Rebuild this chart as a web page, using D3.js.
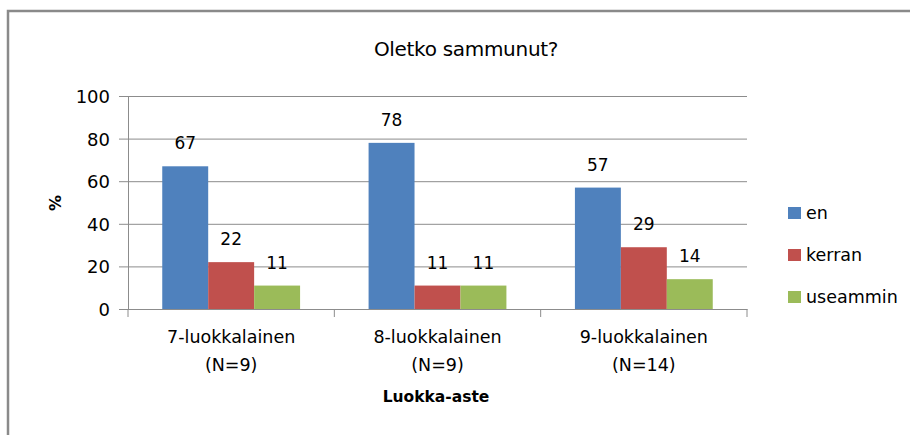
<!DOCTYPE html>
<html>
<head>
<meta charset="utf-8">
<script src="https://cdnjs.cloudflare.com/ajax/libs/d3/7.8.5/d3.min.js"></script>
<style>
  html, body { margin: 0; padding: 0; background: #fff; }
  svg text { font-family: "DejaVu Sans", sans-serif; fill: #000; }
</style>
</head>
<body>
<div class="chart-container"></div>
<script>
/* Oletko sammunut? - grouped bar chart */

var categories = ["7-luokkalainen|(N=9)", "8-luokkalainen|(N=9)", "9-luokkalainen|(N=14)"];
var seriesNames = ["en", "kerran", "useammin"];
var seriesColors = ["#4f81bd", "#c0504d", "#9bbb59"];
var valuesEn = [67, 78, 57];
var valuesKerran = [22, 11, 29];
var valuesUseammin = [11, 11, 14];
var yTicks = [0, 20, 40, 60, 80, 100];

var seriesValues = [valuesEn, valuesKerran, valuesUseammin];

var w = 910;
var h = 435;
var plot = { left: 128, right: 747, top: 96, bottom: 309 };

var svg = d3.select(".chart-container")
    .append("svg")
    .attr("width", w)
    .attr("height", h);

// Frame
svg.append("rect")
    .attr("x", 8)
    .attr("y", 11)
    .attr("width", 960)
    .attr("height", 500)
    .attr("fill", "#fff")
    .attr("stroke", "#8a8a8a")
    .attr("stroke-width", 2.5);

// Title
svg.append("text")
    .attr("x", 466)
    .attr("y", 56)
    .attr("text-anchor", "middle")
    .style("font-size", "20px")
    .style("letter-spacing", "-0.3px")
    .text("Oletko sammunut?");

// Scales
var x0 = d3.scaleBand()
    .domain(categories)
    .range([plot.left, plot.right])
    .padding(0);

var gap = x0.bandwidth() * 0.332;
var x1 = d3.scaleBand()
    .domain(seriesNames)
    .range([gap / 2, x0.bandwidth() - gap / 2])
    .padding(0);

var y = d3.scaleLinear()
    .domain([0, 100])
    .range([plot.bottom, plot.top]);

// Gridlines + y axis
var yAxis = d3.axisLeft(y)
    .tickValues(yTicks)
    .tickSize(-(plot.right - plot.left))
    .tickPadding(18);

var gy = svg.append("g")
    .attr("transform", "translate(" + plot.left + ",0)")
    .call(yAxis);

gy.select(".domain").attr("stroke", "#8c8c8c");
gy.selectAll(".tick line")
    .attr("stroke", "#8c8c8c")
    .attr("x1", -9);
gy.selectAll(".tick text")
    .style("font-size", "18px")
    .style("font-family", "DejaVu Sans, sans-serif")
    .attr("fill", "#000")
    .attr("dy", "0.36em");

// x axis
var xAxis = d3.axisBottom(x0)
    .tickValues([])
    .tickSizeOuter(0);

var gx = svg.append("g")
    .attr("transform", "translate(0," + plot.bottom + ")")
    .call(xAxis);
gx.select(".domain").attr("stroke", "#8c8c8c");

// tick marks at band boundaries
var boundaries = categories.map(function (c) { return x0(c); }).concat([plot.right]);
gx.selectAll(".bound")
    .data(boundaries)
    .enter()
    .append("line")
    .attr("class", "bound")
    .attr("x1", function (d) { return d; })
    .attr("x2", function (d) { return d; })
    .attr("y1", 0)
    .attr("y2", 8)
    .attr("stroke", "#8c8c8c");

// category labels
var catLabels = svg.selectAll(".cat")
    .data(categories)
    .enter()
    .append("text")
    .attr("class", "cat")
    .attr("text-anchor", "middle")
    .style("font-size", "17.5px")
    .attr("transform", function (d) {
        return "translate(" + (x0(d) + x0.bandwidth() / 2) + ",0)";
    });

catLabels.selectAll("tspan")
    .data(function (d) { return d.split("|"); })
    .enter()
    .append("tspan")
    .attr("x", 0)
    .attr("y", function (d, i) { return 343 + i * 28; })
    .text(function (d) { return d; });

// Bars
var groups = svg.selectAll(".group")
    .data(categories)
    .enter()
    .append("g")
    .attr("class", "group")
    .attr("transform", function (d) { return "translate(" + x0(d) + ",0)"; });

groups.selectAll("rect")
    .data(function (d, ci) {
        return seriesNames.map(function (s, si) {
            return { series: s, value: seriesValues[si][ci], color: seriesColors[si] };
        });
    })
    .enter()
    .append("rect")
    .attr("x", function (d) { return x1(d.series); })
    .attr("y", function (d) { return y(d.value); })
    .attr("width", x1.bandwidth())
    .attr("height", function (d) { return y(0) - y(d.value); })
    .attr("fill", function (d) { return d.color; });

groups.selectAll(".val")
    .data(function (d, ci) {
        return seriesNames.map(function (s, si) {
            return { series: s, value: seriesValues[si][ci] };
        });
    })
    .enter()
    .append("text")
    .attr("class", "val")
    .attr("x", function (d) { return x1(d.series) + x1.bandwidth() / 2; })
    .attr("y", function (d) { return y(d.value) - 17; })
    .attr("text-anchor", "middle")
    .style("font-size", "17px")
    .text(function (d) { return d.value; });

// Axis titles
svg.append("text")
    .attr("transform", "translate(61,203) rotate(-90)")
    .attr("text-anchor", "middle")
    .style("font-size", "16px")
    .style("font-weight", "bold")
    .text("%");

svg.append("text")
    .attr("x", 436)
    .attr("y", 402)
    .attr("text-anchor", "middle")
    .style("font-size", "15.5px")
    .style("font-weight", "bold")
    .text("Luokka-aste");

// Legend
var legend = svg.selectAll(".legend")
    .data(seriesNames)
    .enter()
    .append("g")
    .attr("class", "legend")
    .attr("transform", function (d, i) { return "translate(788," + (207 + i * 42) + ")"; });

legend.append("rect")
    .attr("width", 13)
    .attr("height", 12)
    .attr("fill", function (d, i) { return seriesColors[i]; });

legend.append("text")
    .attr("x", 18)
    .attr("y", 12)
    .style("font-size", "17.5px")
    .text(function (d) { return d; });
</script>
</body>
</html>
